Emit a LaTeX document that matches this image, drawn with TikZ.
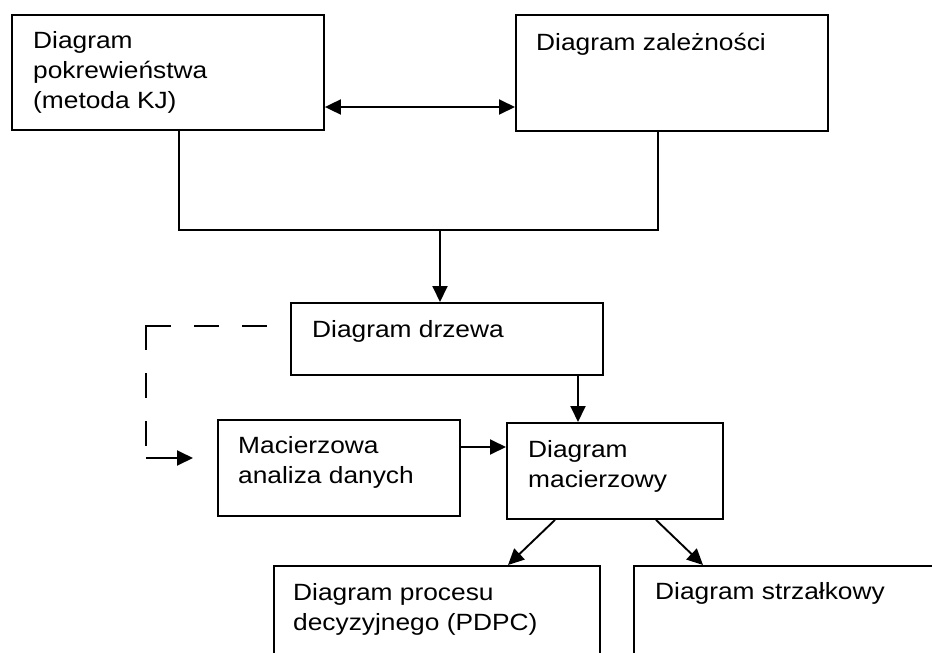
\documentclass[tikz,border=0pt]{standalone}
\usepackage{fontspec}
\setmainfont{Liberation Sans}[FakeStretch=1.12]
\usetikzlibrary{arrows.meta,calc}
\begin{document}
\begin{tikzpicture}[x=1pt,y=-1pt,
  box/.style={draw,line width=1.9pt,rectangle,inner sep=0pt,anchor=north west},
  lbl/.style={anchor=base west,inner sep=0pt,align=left,font=\fontsize{23.5}{29.8}\selectfont},
  conn/.style={line width=1.9pt},
  arr/.style={line width=1.9pt,-{Triangle[length=16pt,width=15pt]}},
  darr/.style={line width=1.9pt,{Triangle[length=16pt,width=15pt]}-{Triangle[length=16pt,width=15pt]}},
  dsh/.style={line width=1.9pt,dash pattern=on 25pt off 23pt on 25pt off 23pt on 49pt off 23pt on 25pt off 23pt on 25pt off 200pt}
]
\useasboundingbox (0,0) rectangle (932,653);
\clip (0,0) rectangle (932,653);
\fill[white] (0,0) rectangle (932,653);

% boxes
\node[box,minimum width=312pt,minimum height=115pt] (b1) at (11,14) {};
\node[box,minimum width=312pt,minimum height=116pt] (b2) at (515,14) {};
\node[box,minimum width=312pt,minimum height=72pt] (b3) at (290,302) {};
\node[box,minimum width=242pt,minimum height=96pt] (b4) at (217,419) {};
\node[box,minimum width=216pt,minimum height=96pt] (b5) at (506,422) {};
\node[box,minimum width=326pt,minimum height=140pt] (b6) at (273,565) {};
\node[box,minimum width=340pt,minimum height=140pt] (b7) at (633,565) {};

% labels (base = baseline of the last line)
\node[lbl] (t1) at (33,108) {Diagram\\pokrewieństwa\\(metoda KJ)};
\node[lbl] (t2) at (536,50) {Diagram zależności};
\node[lbl] (t3) at (312,337) {Diagram drzewa};
\node[lbl] (t4) at (238,483) {Macierzowa\\analiza danych};
\node[lbl] (t5) at (528,487) {Diagram\\macierzowy};
\node[lbl] (t6) at (293,630) {Diagram procesu\\decyzyjnego (PDPC)};
\node[lbl] (t7) at (655,599) {Diagram strzałkowy};

% helper coordinates
\coordinate (y1) at (0,107);
\coordinate (j1) at (179,230);
\coordinate (j2) at (658,230);
\coordinate (j3) at (440,230);
\coordinate (x1) at (578,0);
\coordinate (y2) at (0,447);
\coordinate (d1) at (267,326);
\coordinate (d2) at (146,326);
\coordinate (d3) at (146,447);
\coordinate (a1) at (146,458);
\coordinate (a2) at (193,458);
\coordinate (s1) at (555,0);
\coordinate (e1) at (508,0);
\coordinate (s2) at (656,0);
\coordinate (e2) at (703,0);

% connectors
\draw[darr] (b1.east |- y1) -- (b2.west |- y1);
\draw[conn] (b1.south -| j1) -- (j1) -- (j2) -- (b2.south -| j2);
\draw[arr] (j3) -- (b3.north -| j3);
\draw[arr] (b3.south -| x1) -- (b5.north -| x1);
\draw[arr] (b4.east |- y2) -- (b5.west |- y2);
\draw[arr] (b5.south -| s1) -- (b6.north -| e1);
\draw[arr] (b5.south -| s2) -- (b7.north -| e2);
\draw[dsh] (d1) -- (d2) -- (d3);
\draw[arr] (a1) -- (a2);
\end{tikzpicture}
\end{document}
